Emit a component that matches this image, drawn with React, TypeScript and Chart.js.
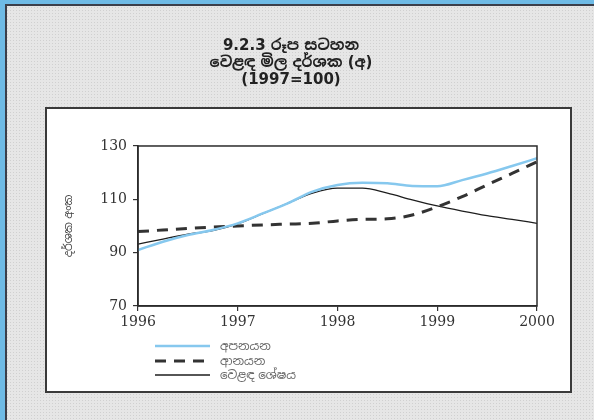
import React, { useEffect, useRef } from "react";
import { Chart, registerables } from "chart.js";

Chart.register(...registerables);

const quarters = [1996, 1996.25, 1996.5, 1996.75, 1997, 1997.25, 1997.5, 1997.75, 1998, 1998.25, 1998.5, 1998.75, 1999, 1999.25, 1999.5, 1999.75, 2000];
const exportsIdx = [91, 94.1, 96.6, 98.5, 101, 104.7, 108.5, 112.9, 115.4, 116.2, 116, 115, 114.9, 117.2, 119.7, 122.5, 125.4];
const importsIdx = [97.9, 98.5, 99.1, 99.6, 100, 100.4, 100.7, 101, 101.9, 102.5, 102.7, 104.1, 107.2, 111, 115.4, 119.7, 124.1];
const tradeBalance = [93.2, 95.1, 96.9, 98.3, 100.8, 104.6, 108.5, 112.3, 114.2, 114.2, 112.3, 109.8, 107.5, 105.6, 103.9, 102.5, 101];
const seriesLabels = ["අපනයන", "ආනයන", "වෙළඳ ශේෂය"];
const yTicks = [70, 90, 110, 130];
const titleLines = ["9.2.3 රූප සටහන", "වෙළඳ මිල දර්ශක (අ)", "(1997=100)"];
const yAxisTitle = "දර්ශක අංක";

const SERIF = '"DejaVu Serif", "Noto Serif Sinhala", "Noto Sans Sinhala", serif';
const SANS = '"DejaVu Sans", "Noto Sans Sinhala", sans-serif';

const boxPlugin = {
  id: "plotBox",
  afterDraw(chart: any) {
    const { ctx, chartArea } = chart;
    ctx.save();
    ctx.strokeStyle = "#2b2b2b";
    ctx.lineWidth = 1.5;
    ctx.strokeRect(chartArea.left, chartArea.top, chartArea.right - chartArea.left, chartArea.bottom - chartArea.top);
    ctx.restore();
  },
};

const legendPlugin = {
  id: "customLegend",
  afterDraw(chart: any) {
    const { ctx } = chart;
    const rows = [346, 361, 375];
    ctx.save();
    chart.data.datasets.forEach((ds: any, i: number) => {
      const y = rows[i];
      ctx.beginPath();
      ctx.strokeStyle = ds.borderColor;
      ctx.lineWidth = ds.borderWidth;
      ctx.setLineDash(ds.borderDash || []);
      ctx.moveTo(155, y);
      ctx.lineTo(210, y);
      ctx.stroke();
      ctx.setLineDash([]);
      ctx.fillStyle = "#666";
      ctx.font = '12px ' + SANS;
      ctx.textBaseline = "middle";
      ctx.textAlign = "left";
      ctx.fillText(ds.label, 220, y + 1);
    });
    ctx.restore();
  },
};

export default function App() {
  const ref = useRef<HTMLCanvasElement | null>(null);
  useEffect(() => {
    if (!ref.current) return;
    const mk = (vals: number[]) => quarters.map((x, i) => ({ x, y: vals[i] }));
    const chart = new Chart(ref.current, {
      type: "line",
      data: {
        datasets: [
          { label: seriesLabels[0], data: mk(exportsIdx), borderColor: "#86c8ee", borderWidth: 2.5, pointRadius: 0, cubicInterpolationMode: "monotone", fill: false },
          { label: seriesLabels[1], data: mk(importsIdx), borderColor: "#333333", borderWidth: 3, borderDash: [11, 8], pointRadius: 0, cubicInterpolationMode: "monotone", fill: false },
          { label: seriesLabels[2], data: mk(tradeBalance), borderColor: "#1e1e1e", borderWidth: 1.3, pointRadius: 0, cubicInterpolationMode: "monotone", fill: false },
        ],
      },
      options: {
        animation: false,
        responsive: false,
        events: [],
        layout: { padding: { left: 45, right: 57, top: 0, bottom: 84 } },
        plugins: {
          legend: { display: false },
          tooltip: { enabled: false },
          title: {
            display: true,
            text: titleLines,
            color: "#222",
            font: { family: SANS, size: 15, weight: "bold", lineHeight: 1.133 },
            padding: { top: 38, bottom: 57 },
          },
        },
        scales: {
          x: {
            type: "linear",
            min: 1996,
            max: 2000,
            afterFit: (s: any) => { s.height = 30; },
            ticks: { stepSize: 1, color: "#333", font: { family: SERIF, size: 14 }, padding: 3, maxRotation: 0, callback: (v: any) => String(v) },
            grid: { drawOnChartArea: false, drawTicks: true, tickLength: 5, color: "#333", lineWidth: 1.2 },
            border: { display: true, color: "#2b2b2b", width: 1.5 },
          },
          y: {
            min: 70,
            max: 130,
            afterFit: (s: any) => { s.width = 93; },
            afterBuildTicks: (s: any) => { s.ticks = yTicks.map((v) => ({ value: v })); },
            ticks: { color: "#333", font: { family: SERIF, size: 14 }, padding: 6 },
            grid: { drawOnChartArea: false, drawTicks: true, tickLength: 5, color: "#333", lineWidth: 1.2 },
            border: { display: true, color: "#2b2b2b", width: 1.5 },
            title: { display: true, text: yAxisTitle, color: "#444", font: { family: SANS, size: 11 }, padding: { top: 18, bottom: 0 } },
          },
        },
      },
      plugins: [boxPlugin, legendPlugin],
    } as any);
    return () => chart.destroy();
  }, []);

  return (
    <div
      style={{
        position: "fixed",
        left: 0,
        top: 0,
        width: 594,
        height: 420,
        overflow: "hidden",
        backgroundColor: "#e6e6e6",
        backgroundImage: "radial-gradient(#d0d0d0 0.7px, transparent 1px)",
        backgroundSize: "3px 3px",
      }}
    >
      <div style={{ position: "absolute", left: 0, top: 0, width: 594, height: 4, background: "#6fbbe6" }} />
      <div style={{ position: "absolute", left: 0, top: 0, width: 5, height: 420, background: "#6fbbe6" }} />
      <div style={{ position: "absolute", left: 5, top: 4, width: 589, height: 2, background: "#3c3f4a" }} />
      <div style={{ position: "absolute", left: 5, top: 4, width: 2, height: 416, background: "#3c3f4a" }} />
      <div
        style={{
          position: "absolute",
          left: 45,
          top: 107,
          width: 523,
          height: 282,
          background: "#ffffff",
          border: "2px solid #3a3a3a",
        }}
      />
      <canvas ref={ref} width={594} height={420} style={{ position: "absolute", left: 0, top: 0 }} />
    </div>
  );
}
